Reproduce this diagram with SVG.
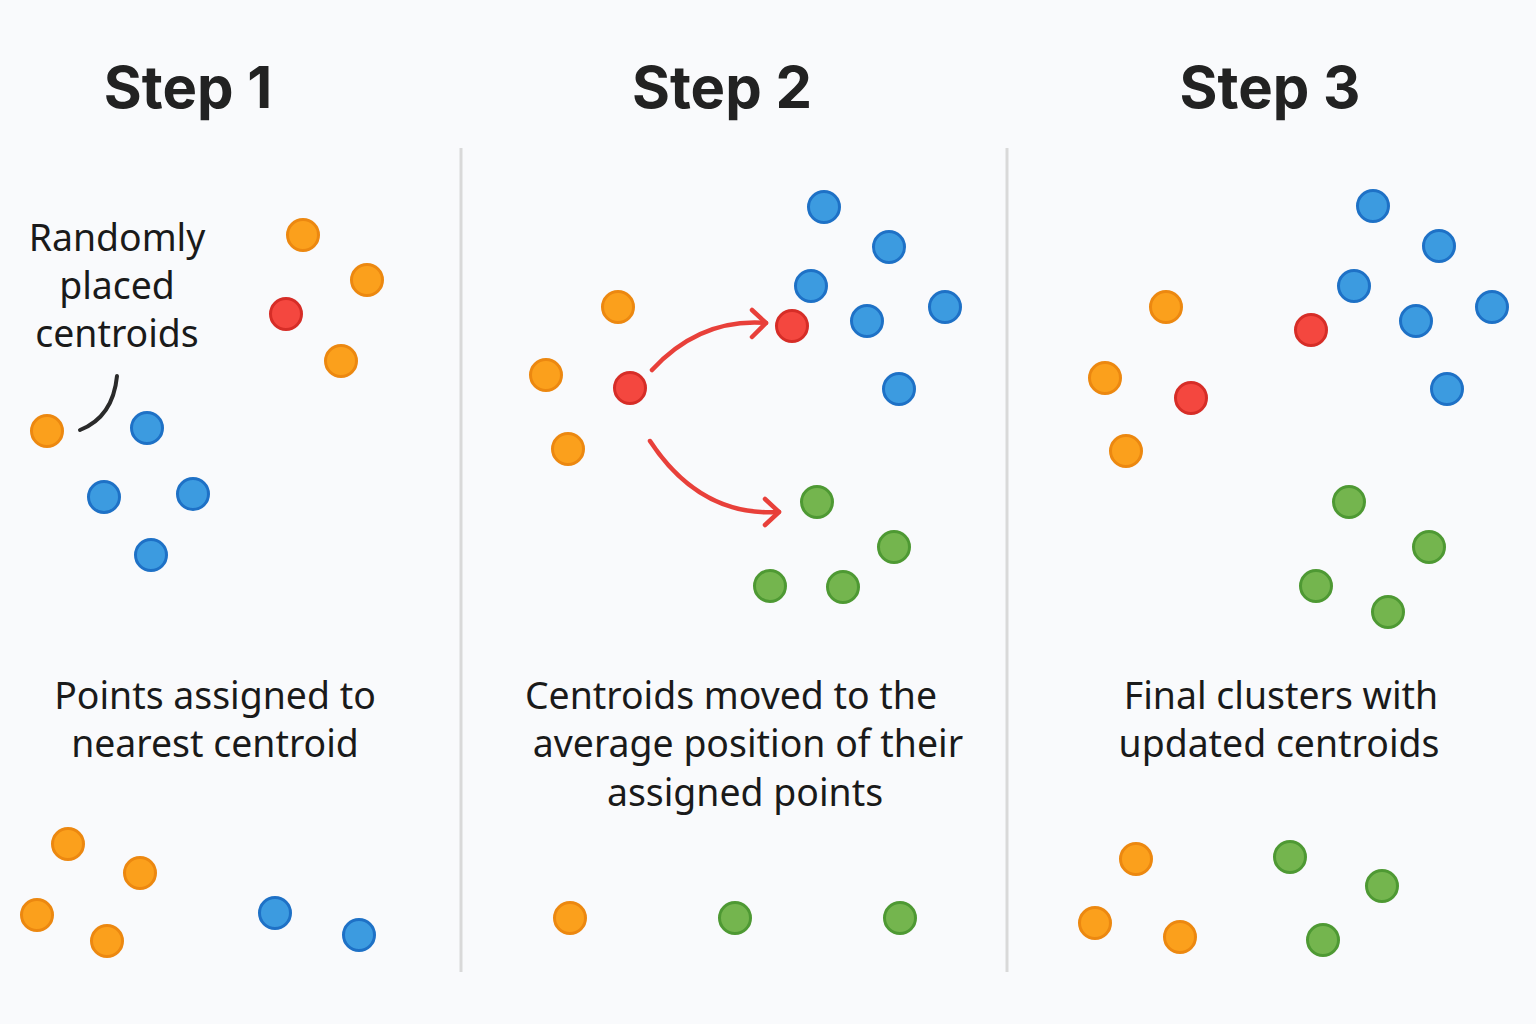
<svg xmlns="http://www.w3.org/2000/svg" width="1536" height="1024" viewBox="0 0 1536 1024">
<style>
.t{font-family:Inter,"Noto Sans",sans-serif;font-weight:700;font-size:58px;fill:#222;text-anchor:middle}
.l{font-family:"Noto Sans","Open Sans",sans-serif;font-size:37.4px;fill:#1a1a1a;text-anchor:middle}
.o{fill:#FBA01C;stroke:#EC8810;stroke-width:3}
.b{fill:#3C9BE0;stroke:#1E71C6;stroke-width:3}
.r{fill:#F4473F;stroke:#D62D27;stroke-width:3}
.g{fill:#74B54E;stroke:#4E9933;stroke-width:3}
.div{stroke:#D9D9D9;stroke-width:3}
.arr{fill:none;stroke:#E8403A;stroke-width:4.5;stroke-linecap:round;stroke-linejoin:round}
</style>
<rect width="1536" height="1024" fill="#F9FAFC"/>
<g id="dividers">
<line class="div" x1="461" y1="148" x2="461" y2="972"/>
<line class="div" x1="1007" y1="148" x2="1007" y2="972"/>
</g>
<g id="titles">
<text class="t" x="188" y="108">Step 1</text>
<text class="t" x="722" y="108">Step 2</text>
<text class="t" x="1270" y="108">Step 3</text>
</g>
<g id="step1">
<text class="l" x="117" y="251">Randomly</text>
<text class="l" x="117" y="299">placed</text>
<text class="l" x="117" y="347">centroids</text>
<circle class="o" cx="303" cy="235" r="15.5"/>
<circle class="o" cx="367" cy="280" r="15.5"/>
<circle class="o" cx="341" cy="361" r="15.5"/>
<circle class="o" cx="47" cy="431" r="15.5"/>
<circle class="r" cx="286" cy="314" r="15.5"/>
<circle class="b" cx="147" cy="428" r="15.5"/>
<circle class="b" cx="104" cy="497" r="15.5"/>
<circle class="b" cx="193" cy="494" r="15.5"/>
<circle class="b" cx="151" cy="555" r="15.5"/>
<text class="l" x="215" y="709">Points assigned to</text>
<text class="l" x="215" y="757">nearest centroid</text>
<circle class="o" cx="68" cy="844" r="15.5"/>
<circle class="o" cx="140" cy="873" r="15.5"/>
<circle class="o" cx="37" cy="915" r="15.5"/>
<circle class="o" cx="107" cy="941" r="15.5"/>
<circle class="b" cx="275" cy="913" r="15.5"/>
<circle class="b" cx="359" cy="935" r="15.5"/>
</g>
<g id="step2">
<circle class="o" cx="618" cy="307" r="15.5"/>
<circle class="o" cx="546" cy="375" r="15.5"/>
<circle class="o" cx="568" cy="449" r="15.5"/>
<circle class="r" cx="630" cy="388" r="15.5"/>
<circle class="r" cx="792" cy="326" r="15.5"/>
<circle class="b" cx="824" cy="207" r="15.5"/>
<circle class="b" cx="889" cy="247" r="15.5"/>
<circle class="b" cx="811" cy="286" r="15.5"/>
<circle class="b" cx="867" cy="321" r="15.5"/>
<circle class="b" cx="945" cy="307" r="15.5"/>
<circle class="b" cx="899" cy="389" r="15.5"/>
<circle class="g" cx="817" cy="502" r="15.5"/>
<circle class="g" cx="894" cy="547" r="15.5"/>
<circle class="g" cx="770" cy="586" r="15.5"/>
<circle class="g" cx="843" cy="587" r="15.5"/>
<text class="l" x="731" y="709">Centroids moved to the</text>
<text class="l" x="748" y="757">average position of their</text>
<text class="l" x="745" y="806">assigned points</text>
<circle class="o" cx="570" cy="918" r="15.5"/>
<circle class="g" cx="735" cy="918" r="15.5"/>
<circle class="g" cx="900" cy="918" r="15.5"/>
</g>
<g id="step3">
<circle class="o" cx="1166" cy="307" r="15.5"/>
<circle class="o" cx="1105" cy="378" r="15.5"/>
<circle class="o" cx="1126" cy="451" r="15.5"/>
<circle class="r" cx="1191" cy="398" r="15.5"/>
<circle class="r" cx="1311" cy="330" r="15.5"/>
<circle class="b" cx="1373" cy="206" r="15.5"/>
<circle class="b" cx="1439" cy="246" r="15.5"/>
<circle class="b" cx="1354" cy="286" r="15.5"/>
<circle class="b" cx="1416" cy="321" r="15.5"/>
<circle class="b" cx="1492" cy="307" r="15.5"/>
<circle class="b" cx="1447" cy="389" r="15.5"/>
<circle class="g" cx="1349" cy="502" r="15.5"/>
<circle class="g" cx="1429" cy="547" r="15.5"/>
<circle class="g" cx="1316" cy="586" r="15.5"/>
<circle class="g" cx="1388" cy="612" r="15.5"/>
<text class="l" x="1281" y="709">Final clusters with</text>
<text class="l" x="1279" y="757">updated centroids</text>
<circle class="o" cx="1136" cy="859" r="15.5"/>
<circle class="o" cx="1095" cy="923" r="15.5"/>
<circle class="o" cx="1180" cy="937" r="15.5"/>
<circle class="g" cx="1290" cy="857" r="15.5"/>
<circle class="g" cx="1382" cy="886" r="15.5"/>
<circle class="g" cx="1323" cy="940" r="15.5"/>
</g>
<g id="connectors">
<path d="M117,376 Q113,417 80,430" fill="none" stroke="#2A2A2A" stroke-width="4" stroke-linecap="round"/>
<path class="arr" d="M652,370 Q700,318 766,323"/>
<path class="arr" d="M752,310 L766,323 L752,337"/>
<path class="arr" d="M650,441 Q700,517 779,512"/>
<path class="arr" d="M765,499 L779,512 L765,525"/>
</g>
</svg>
